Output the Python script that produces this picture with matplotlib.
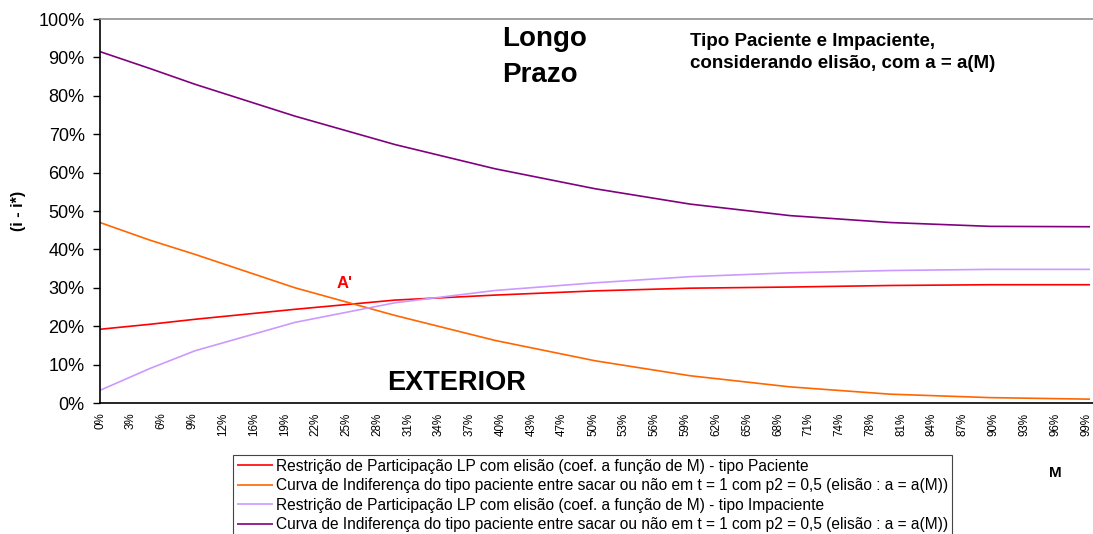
import numpy as np
import matplotlib
matplotlib.use("Agg")
from matplotlib import pyplot as plt

plt.rcParams['font.family'] = ['Liberation Sans', 'DejaVu Sans']

M = [0, 5, 9.5, 19.5, 29.5, 39.5, 49.5, 59, 69, 79, 89, 99]

rp_paciente = [19.2, 20.5, 21.8, 24.4, 26.8, 28.1, 29.2, 29.9, 30.2, 30.6, 30.8, 30.8]
ci_paciente = [47.0, 42.4, 38.7, 30.0, 22.8, 16.3, 11.0, 7.1, 4.2, 2.3, 1.4, 1.0]
rp_impaciente = [3.3, 9.0, 13.6, 21.0, 26.1, 29.3, 31.3, 32.9, 33.9, 34.5, 34.8, 34.8]
ci_impaciente = [91.5, 87.1, 83.0, 74.7, 67.3, 61.0, 55.8, 51.8, 48.8, 47.0, 46.0, 45.9]

xtick_labels = ['0%', '3%', '6%', '9%', '12%', '16%', '19%', '22%', '25%', '28%', '31%',
                '34%', '37%', '40%', '43%', '47%', '50%', '53%', '56%', '59%', '62%', '65%',
                '68%', '71%', '74%', '78%', '81%', '84%', '87%', '90%', '93%', '96%', '99%']

legend_labels = [
    'Restrição de Participação LP com elisão (coef. a função de M) - tipo Paciente',
    'Curva de Indiferença do tipo paciente entre sacar ou não em t = 1 com p2 = 0,5 (elisão : a = a(M))',
    'Restrição de Participação LP com elisão (coef. a função de M) - tipo Impaciente',
    'Curva de Indiferença do tipo paciente entre sacar ou não em t = 1 com p2 = 0,5 (elisão : a = a(M))',
]
colors = ['#FF0000', '#FF6600', '#CC99FF', '#800080']

W, H = 1093, 534
fig = plt.figure(figsize=(W / 100, H / 100), dpi=100)
ax = fig.add_axes([100 / W, 1 - 403 / H, 993 / W, (403 - 19) / H])

series = [rp_paciente, ci_paciente, rp_impaciente, ci_impaciente]
handles = []
for vals, c in zip(series, colors):
    h, = ax.plot(M, vals, color=c, lw=1.2, solid_capstyle='butt')
    handles.append(h)

ax.set_xlim(0, 99.3)
ax.set_ylim(0, 100)
ax.set_yticks(np.arange(0, 101, 10))
ax.set_yticklabels(['%d%%' % v for v in range(0, 101, 10)], fontsize=13)
ax.set_xticks(np.linspace(0, 98.6, len(xtick_labels)))
ax.set_xticklabels(xtick_labels, rotation=90, fontsize=8.4)
ax.tick_params(axis='x', length=0, pad=7)
ax.tick_params(axis='y', direction='out', length=5, width=1, pad=6)

ax.spines['right'].set_visible(False)
ax.spines['top'].set_color('#909090')
ax.spines['top'].set_linewidth(1.2)
ax.spines['left'].set_linewidth(1.2)
ax.spines['bottom'].set_linewidth(1.2)

ax.set_ylabel('(i - i*)', fontsize=11.5, fontweight='bold', labelpad=9)

ax.text(40.2, 94.7, 'Longo', fontsize=20, fontweight='bold', va='center', ha='left')
ax.text(40.2, 85.3, 'Prazo', fontsize=20, fontweight='bold', va='center', ha='left')
ax.text(59, 94.2, 'Tipo Paciente e Impaciente,', fontsize=13.5, fontweight='bold', va='center')
ax.text(59, 88.4, 'considerando elisão, com a = a(M)', fontsize=13.5, fontweight='bold', va='center')
ax.text(28.7, 5.2, 'EXTERIOR', fontsize=19.5, fontweight='bold', va='center')
ax.text(23.7, 31, "A'", fontsize=12, fontweight='bold', color='#FF0000', va='center')

fig.text(1055 / W, 1 - 473 / H, 'M', fontsize=11, fontweight='bold', ha='center', va='center')

leg = fig.legend(handles, legend_labels, loc='upper left',
                 bbox_to_anchor=(233 / W, 1 - 455 / H), borderaxespad=0,
                 fontsize=11.2, handlelength=2.3, handletextpad=0.2,
                 labelspacing=0.28, borderpad=0.25, fancybox=False, framealpha=1)
leg.get_frame().set_edgecolor('#444444')
leg.get_frame().set_linewidth(0.8)

fig.savefig('out.png', dpi=100)
